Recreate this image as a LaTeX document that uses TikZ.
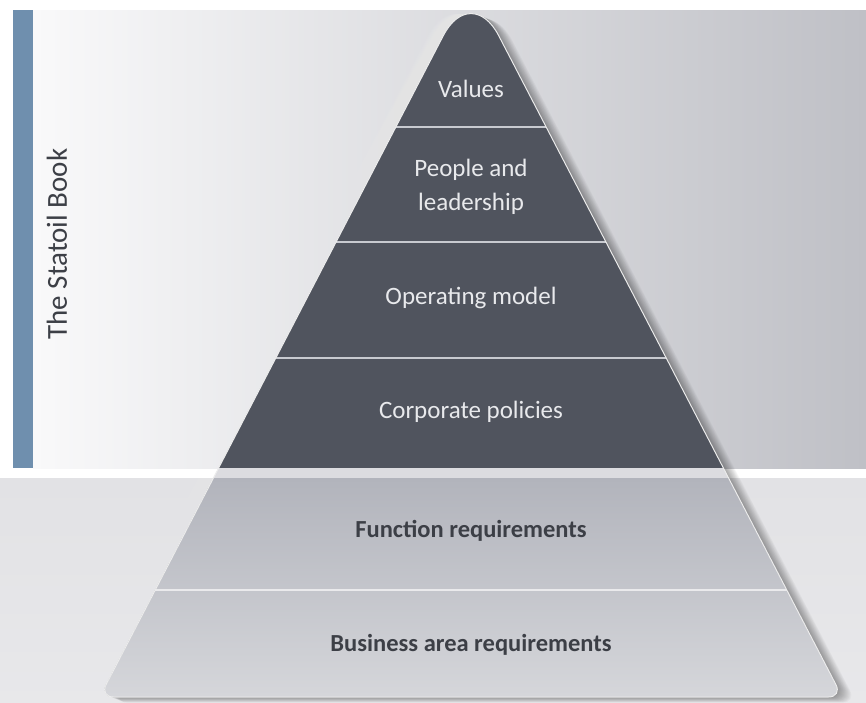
\documentclass[tikz,border=0pt]{standalone}
\usepackage{fontspec}
\setmainfont{Carlito}
\usetikzlibrary{calc}
\definecolor{darkpyr}{HTML}{50545E}
\definecolor{barblue}{HTML}{6F8FAE}
\definecolor{panelL}{HTML}{F9F9FA}
\definecolor{panelM}{HTML}{DDDDE0}
\definecolor{panelR}{HTML}{BFC0C6}
\definecolor{lowpanel}{HTML}{E2E2E5}
\definecolor{gapc}{HTML}{DCDCE0}
\definecolor{lowtop}{HTML}{B2B4BC}
\definecolor{lowbot}{HTML}{D6D7DB}
\definecolor{divc}{HTML}{C8CAD0}
\definecolor{darktext}{HTML}{3C3F46}
\definecolor{lighttext}{HTML}{E8E9EC}
\newcommand\pyrshape{(285.3,339.7) [rounded corners=60] -- (471,-17.6) -- (656.7,339.7) [rounded corners=14] -- (842.4,697) -- (99.6,697) -- cycle}
\tikzset{
  uplabel/.style={text=lighttext, font=\fontsize{25}{34}\selectfont, align=center, inner sep=0pt},
  lowlabel/.style={text=darktext, font=\bfseries\fontsize{24.5}{30}\selectfont, align=center, inner sep=0pt},
  divline/.style={draw=divc, line width=1.8pt},
}
\begin{document}
\begin{tikzpicture}[x=1pt,y=-1pt]
\useasboundingbox (0,0) rectangle (866,702);
\fill[white] (0,0) rectangle (866,702);
% top panel
\fill[left color=panelL, middle color=panelM, right color=panelR] (33,10) rectangle (866,468);
\fill[barblue] (13,10) rectangle (33,468);
% bottom panel
\fill[top color=lowpanel, bottom color=lowpanel!80!white] (0,478) rectangle (866,702);
% glow and shadow
\foreach \i in {1,...,14} {
  \fill[white, opacity=0.035, shift={(-\i*1.1,0)}] \pyrshape;
}
\foreach \i in {1,...,14} {
  \fill[black, opacity=0.028, shift={(\i*1.0,\i*0.4)}] \pyrshape;
}
% pyramid body
\begin{scope}
  \clip \pyrshape;
  \fill[darkpyr] (0,-30) rectangle (866,468);
  \fill[gapc] (0,468) rectangle (866,478);
  \fill[top color=lowtop, bottom color=lowbot] (0,478) rectangle (866,702);
  \draw[divline] (0,127) -- (866,127);
  \draw[divline] (0,242) -- (866,242);
  \draw[divline] (0,358) -- (866,358);
  \draw[draw=gapc!60!white, line width=1.5pt] (0,590) -- (866,590);
\end{scope}
\draw[draw=white!85!gray, line width=1pt] \pyrshape;
% labels
\node[uplabel] (values) at (471,89) {Values};
\node[uplabel] (people) at (471,187) {People and\\leadership};
\node[uplabel] (operating) at (471,298) {Operating model};
\node[uplabel] (corporate) at (471,412) {Corporate policies};
\node[lowlabel] (function) at (471,531) {Function requirements};
\node[lowlabel] (business) at (471,645) {Business area requirements};
\node[text=darktext, font=\fontsize{29}{32}\selectfont, rotate=90, inner sep=0pt] (book) at (57,244) {The Statoil Book};
\end{tikzpicture}
\end{document}
